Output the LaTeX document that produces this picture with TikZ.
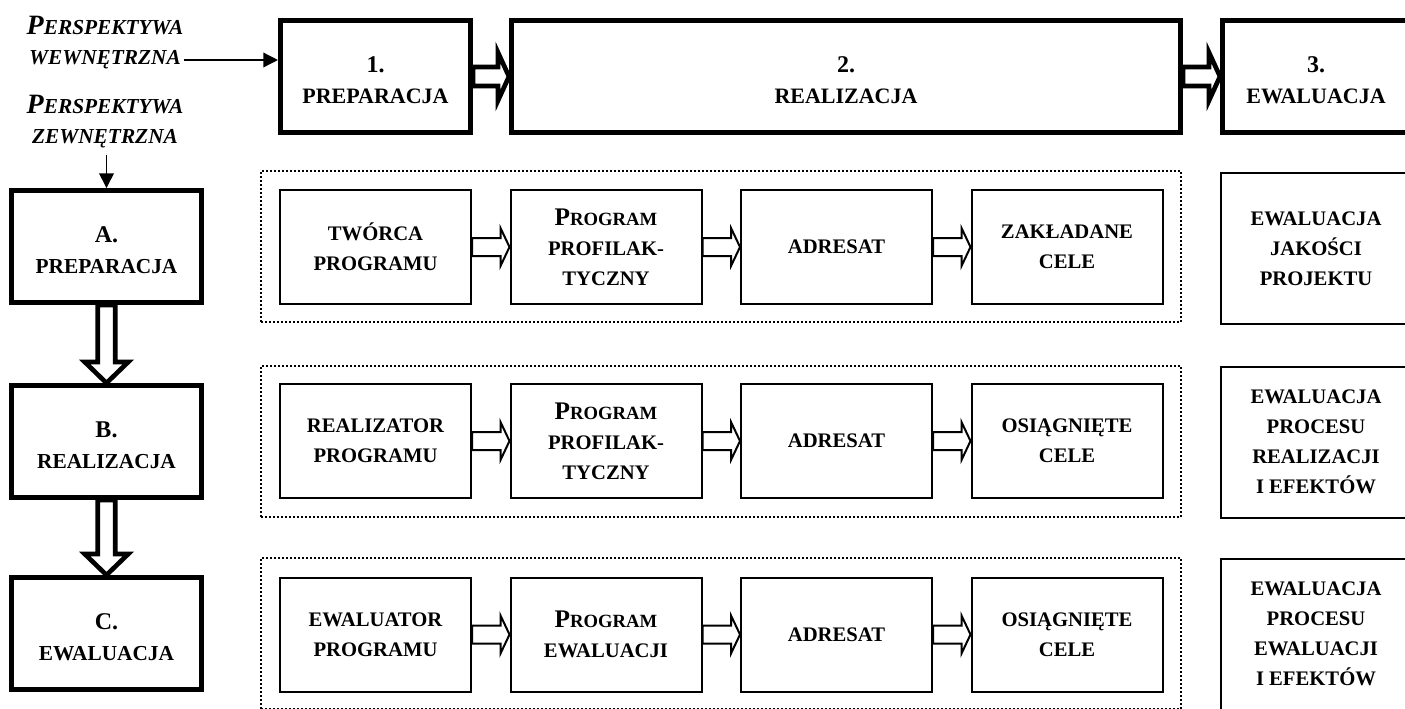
\documentclass[tikz,border=0pt]{standalone}
\usepackage{fontspec}
\setmainfont{Liberation Serif}
\usetikzlibrary{calc,arrows.meta}
\newcommand{\kap}[2]{{\fontsize{19}{22}\selectfont #1}{\fontsize{14}{22}\selectfont #2}}
\newcommand{\nr}[1]{{\fontsize{18}{24}\selectfont\rule{0pt}{17pt}#1}}
% hollow block arrows: from, to, half body, half head, head length, style
\newcommand{\harr}[6]{\draw[#6] ($(#1.east)+(0,-#3)$) -- ($(#2.west|-#1.east)+(-#5,-#3)$) -- ($(#2.west|-#1.east)+(-#5,-#4)$) -- (#2.west|-#1.east) -- ($(#2.west|-#1.east)+(-#5,#4)$) -- ($(#2.west|-#1.east)+(-#5,#3)$) -- ($(#1.east)+(0,#3)$) -- cycle;}
\newcommand{\varr}[6]{\draw[#6] ($(#1.south)+(-#3,0)$) -- ($(#2.north-|#1.south)+(-#3,-#5)$) -- ($(#2.north-|#1.south)+(-#4,-#5)$) -- (#2.north-|#1.south) -- ($(#2.north-|#1.south)+(#4,-#5)$) -- ($(#2.north-|#1.south)+(#3,-#5)$) -- ($(#1.south)+(#3,0)$) -- cycle;}
\begin{document}
\begin{tikzpicture}[x=0.75pt, y=-0.75pt, line join=miter, font=\bfseries\fontsize{15.5}{22.5}\selectfont,
  etap/.style={draw, line width=3.5pt, align=center, inner sep=0pt, minimum width=142.8pt, minimum height=84.2pt, font=\bfseries\fontsize{16.5}{23}\selectfont},
  blok/.style={draw, line width=1.5pt, align=center, inner sep=0pt, minimum width=143.25pt, minimum height=85.5pt},
  ocena/.style={draw, line width=1.5pt, align=center, inner sep=0pt, minimum width=142.5pt, minimum height=113.25pt},
  ramka/.style={draw, line width=1.5pt, dash pattern=on 1.5pt off 1.5pt, minimum width=690pt, minimum height=113.25pt},
  persp/.style={font=\bfseries\itshape\fontsize{16}{22.5}\selectfont, align=center, inner sep=0pt},
  cienka/.style={line width=1.1pt, -{Triangle[length=11pt,width=11pt]}},
  gruba/.style={line width=3.5pt}, pusta/.style={line width=1.5pt}]
\clip (0,0) rectangle (1405,708);
% perspektywy
\node[persp] (pw) at (105,43) {{\fontsize{21}{22.5}\selectfont P}ERSPEKTYWA\\WEWNĘTRZNA};
\node[persp] (pz) at (105,122) {{\fontsize{21}{22.5}\selectfont P}ERSPEKTYWA\\ZEWNĘTRZNA};
% etapy
\node[etap] (p1) at (375.5,76.5) {\nr{1.}\\PREPARACJA};
\node[etap, minimum width=502pt] (p2) at (846,76.5) {\nr{2.}\\REALIZACJA};
\node[etap, minimum width=140.5pt] (p3) at (1316,76.5) {\nr{3.}\\EWALUACJA};
\node[etap, font=\bfseries\fontsize{16}{23}\selectfont] (a) at (106.5,246.5) {\nr{A.}\\PREPARACJA};
\node[etap, font=\bfseries\fontsize{16}{23}\selectfont] (b) at (106.5,441.5) {\nr{B.}\\REALIZACJA};
\node[etap, font=\bfseries\fontsize{16}{23}\selectfont] (c) at (106.5,633.5) {\nr{C.}\\EWALUACJA};
\foreach \y [count=\i] in {246.5,441.5,633.5} \node[ramka] (f\i) at (721,\y) {};
% wiersz 1
\node[blok] (r11) at (375.5,247) {TWÓRCA\\PROGRAMU};
\node[blok] (r12) at (606,247) {\kap{P}{ROGRAM}\\PROFILAK-\\TYCZNY};
\node[blok] (r13) at (836.5,247) {ADRESAT};
\node[blok] (r14) at (1067,247) {ZAKŁADANE\\CELE};
% wiersz 2
\node[blok] (r21) at (375.5,441) {REALIZATOR\\PROGRAMU};
\node[blok] (r22) at (606,441) {\kap{P}{ROGRAM}\\PROFILAK-\\TYCZNY};
\node[blok] (r23) at (836.5,441) {ADRESAT};
\node[blok] (r24) at (1067,441) {OSIĄGNIĘTE\\CELE};
% wiersz 3
\node[blok] (r31) at (375.5,634.5) {EWALUATOR\\PROGRAMU};
\node[blok] (r32) at (606,634.5) {\kap{P}{ROGRAM}\\EWALUACJI};
\node[blok] (r33) at (836.5,634.5) {ADRESAT};
\node[blok] (r34) at (1067,634.5) {OSIĄGNIĘTE\\CELE};
% ewaluacje
\node[ocena] (o1) at (1316,248.5) {EWALUACJA\\JAKOŚCI\\PROJEKTU};
\node[ocena] (o2) at (1316,442) {EWALUACJA\\PROCESU\\REALIZACJI\\I EFEKTÓW};
\node[ocena] (o3) at (1316,634) {EWALUACJA\\PROCESU\\EWALUACJI\\I EFEKTÓW};
% strzalki
\path (pw.east) ++(0,17) coordinate (pwk);
\draw[cienka] (pwk) -- (pwk -| p1.west);
\draw[cienka, shorten <=5pt] (pz.south -| a.north) -- (a.north);
\harr{p1}{p2}{9.5}{24}{11}{gruba}
\harr{p2}{p3}{9.5}{24}{11}{gruba}
\varr{a}{b}{8.7}{21.7}{21}{gruba}
\varr{b}{c}{8.7}{21.7}{21}{gruba}
\foreach \r in {1,2,3}{\foreach \c in {1,2,3}{\pgfmathtruncatemacro\d{\c+1}
  \harr{r\r\c}{r\r\d}{9}{19}{9}{pusta}}}
\end{tikzpicture}
\end{document}
